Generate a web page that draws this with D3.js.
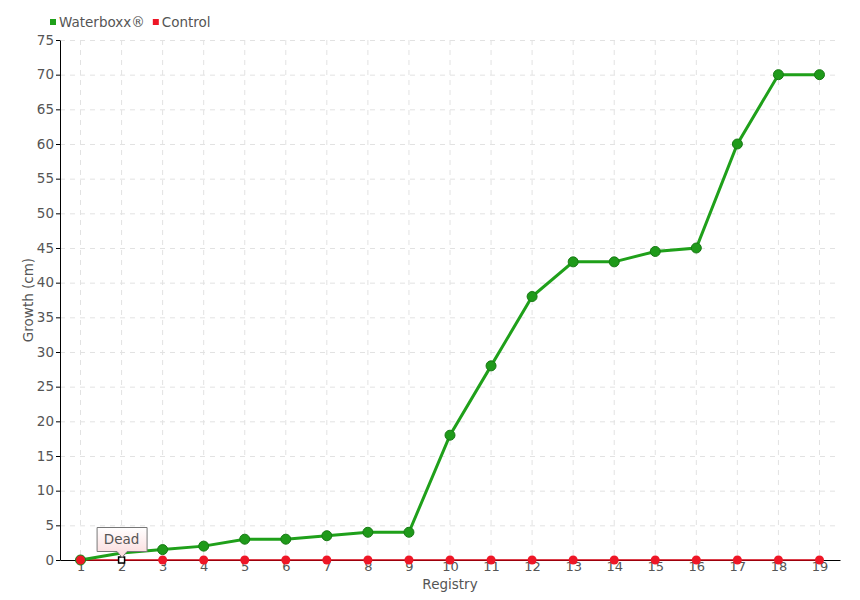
<!DOCTYPE html>
<html>
<head>
<meta charset="utf-8">
<script src="https://cdn.jsdelivr.net/npm/d3@7"></script>
<style>
  body { margin: 0; background: #fff; }
  text { font-family: "DejaVu Sans", sans-serif; fill: #555; }
</style>
</head>
<body>
<div id="chart"></div>
<script>
var registry = [1, 2, 3, 4, 5, 6, 7, 8, 9, 10, 11, 12, 13, 14, 15, 16, 17, 18, 19];
var waterboxx = [0, 1, 1.5, 2, 3, 3, 3.5, 4, 4, 18, 28, 38, 43, 43, 44.5, 45, 60, 70, 70];
var control = [0, 0, 0, 0, 0, 0, 0, 0, 0, 0, 0, 0, 0, 0, 0, 0, 0, 0, 0];
var yTicks = [0, 5, 10, 15, 20, 25, 30, 35, 40, 45, 50, 55, 60, 65, 70, 75];
var seriesNames = ["Waterboxx®", "Control"];
var deadIndex = 1;   // control point with the "Dead" tooltip

var width = 860;
var height = 600;
var margin = {top: 40, right: 20, bottom: 40, left: 60};

var svg = d3.select("#chart")
    .append('svg')
    .attr('width', width)
    .attr('height', height);

var x = d3.scalePoint()
    .domain(registry)
    .range([margin.left, width - margin.right])
    .padding(0.5);

var y = d3.scaleLinear()
    .domain([0, 75])
    .range([height - margin.bottom, margin.top]);

// grid
svg.append('g')
    .selectAll('line')
    .data(yTicks.slice(1))
    .enter()
    .append('line')
    .attr('x1', margin.left)
    .attr('x2', width - margin.right)
    .attr('y1', function (d) { return y(d) + 0.5; })
    .attr('y2', function (d) { return y(d) + 0.5; })
    .attr('stroke', '#e2e2e2')
    .attr('stroke-dasharray', '5,5');

svg.append('g')
    .selectAll('line')
    .data(registry)
    .enter()
    .append('line')
    .attr('x1', function (d) { return x(d); })
    .attr('x2', function (d) { return x(d); })
    .attr('y1', y(75))
    .attr('y2', y(0))
    .attr('stroke', '#e2e2e2')
    .attr('stroke-dasharray', '5,5');

// axes
var yAxis = svg.append('g')
    .attr('transform', 'translate(' + margin.left + ',0)')
    .call(d3.axisLeft(y).tickValues(yTicks).tickSize(4).tickSizeOuter(0).tickPadding(2));
yAxis.select('.domain').attr('stroke', '#000');
yAxis.selectAll('.tick line').attr('stroke', '#000');
yAxis.selectAll('text').attr('font-size', 13.5);

var xAxis = svg.append('g')
    .attr('transform', 'translate(0,' + y(0) + ')')
    .call(d3.axisBottom(x).tickSize(0).tickSizeOuter(0).tickPadding(2));
xAxis.select('.domain').attr('stroke', '#000');
xAxis.selectAll('text').attr('font-size', 13);

svg.append('text')
    .attr('transform', 'translate(33,' + ((y(0) + y(75)) / 2) + ') rotate(-90)')
    .attr('text-anchor', 'middle')
    .attr('font-size', 13.5)
    .text('Growth (cm)');

svg.append('text')
    .attr('x', (margin.left + width - margin.right) / 2)
    .attr('y', 589)
    .attr('text-anchor', 'middle')
    .attr('font-size', 13.5)
    .text('Registry');

// lines
var line = d3.line()
    .x(function (d, i) { return x(registry[i]); })
    .y(function (d) { return y(d); });

svg.append('path')
    .datum(control)
    .attr('d', line)
    .attr('fill', 'none')
    .attr('stroke', '#d0000f')
    .attr('stroke-width', 1.5);

svg.append('path')
    .datum(waterboxx)
    .attr('d', line)
    .attr('fill', 'none')
    .attr('stroke', '#1fa01a')
    .attr('stroke-width', 3);

// markers
function points(values) {
    return values.map(function (v, i) { return {v: v, i: i}; })
        .filter(function (d) { return d.i !== deadIndex; });
}

svg.append('g')
    .selectAll('circle')
    .data(points(control).slice(1))
    .enter()
    .append('circle')
    .attr('cx', function (d) { return x(registry[d.i]); })
    .attr('cy', function (d) { return y(d.v); })
    .attr('r', 4.5)
    .attr('fill', '#ee1626');

svg.append('g')
    .selectAll('circle')
    .data(points(waterboxx))
    .enter()
    .append('circle')
    .attr('cx', function (d) { return x(registry[d.i]); })
    .attr('cy', function (d) { return y(d.v); })
    .attr('r', 5)
    .attr('fill', '#1f9a1a')
    .attr('stroke', '#177a14')
    .attr('stroke-width', 1);

// the first control point sits on top of the green one
svg.append('circle')
    .attr('cx', x(registry[0]))
    .attr('cy', y(control[0]))
    .attr('r', 4.5)
    .attr('fill', '#ee1626');

// highlighted point + tooltip
var px = x(registry[deadIndex]);
var py = y(control[deadIndex]);
svg.append('rect')
    .attr('x', px - 3)
    .attr('y', py - 3)
    .attr('width', 6)
    .attr('height', 6)
    .attr('fill', '#fff')
    .attr('stroke', '#000')
    .attr('stroke-width', 1.5);

var grad = svg.append('defs').append('linearGradient')
    .attr('id', 'tipgrad')
    .attr('x1', 0).attr('y1', 0).attr('x2', 0).attr('y2', 1);
grad.append('stop').attr('offset', '0%').attr('stop-color', '#ffffff');
grad.append('stop').attr('offset', '100%').attr('stop-color', '#fbd9da');

var bw = 50, bh = 24, by = py - 33;
svg.append('path')
    .attr('d', 'M' + (px - bw / 2 + 0.5) + ',' + (by + 0.5) +
        'h' + bw + 'v' + bh + 'h' + (-(bw / 2 - 5)) +
        'l-5,6 l-5,-6' + 'h' + (-(bw / 2 - 5)) + 'z')
    .attr('fill', 'url(#tipgrad)')
    .attr('stroke', '#777')
    .attr('stroke-width', 1);
svg.append('text')
    .attr('x', px)
    .attr('y', by + 17)
    .attr('text-anchor', 'middle')
    .attr('font-size', 13.5)
    .text('Dead');

// legend, items laid out one after the other
var legendColors = ['#1fa01a', '#ee1626'];
var legend = svg.append('g');
var lx = 50;
seriesNames.forEach(function (name, i) {
    var item = legend.append('g').attr('transform', 'translate(' + lx + ',0)');
    item.append('rect')
        .attr('x', 0).attr('y', 19)
        .attr('width', 6).attr('height', 6)
        .attr('fill', legendColors[i]);
    var t = item.append('text')
        .attr('x', 9).attr('y', 27)
        .attr('font-size', 13.5)
        .text(name);
    lx += 9 + t.node().getComputedTextLength() + 8;
});
</script>
</body>
</html>
